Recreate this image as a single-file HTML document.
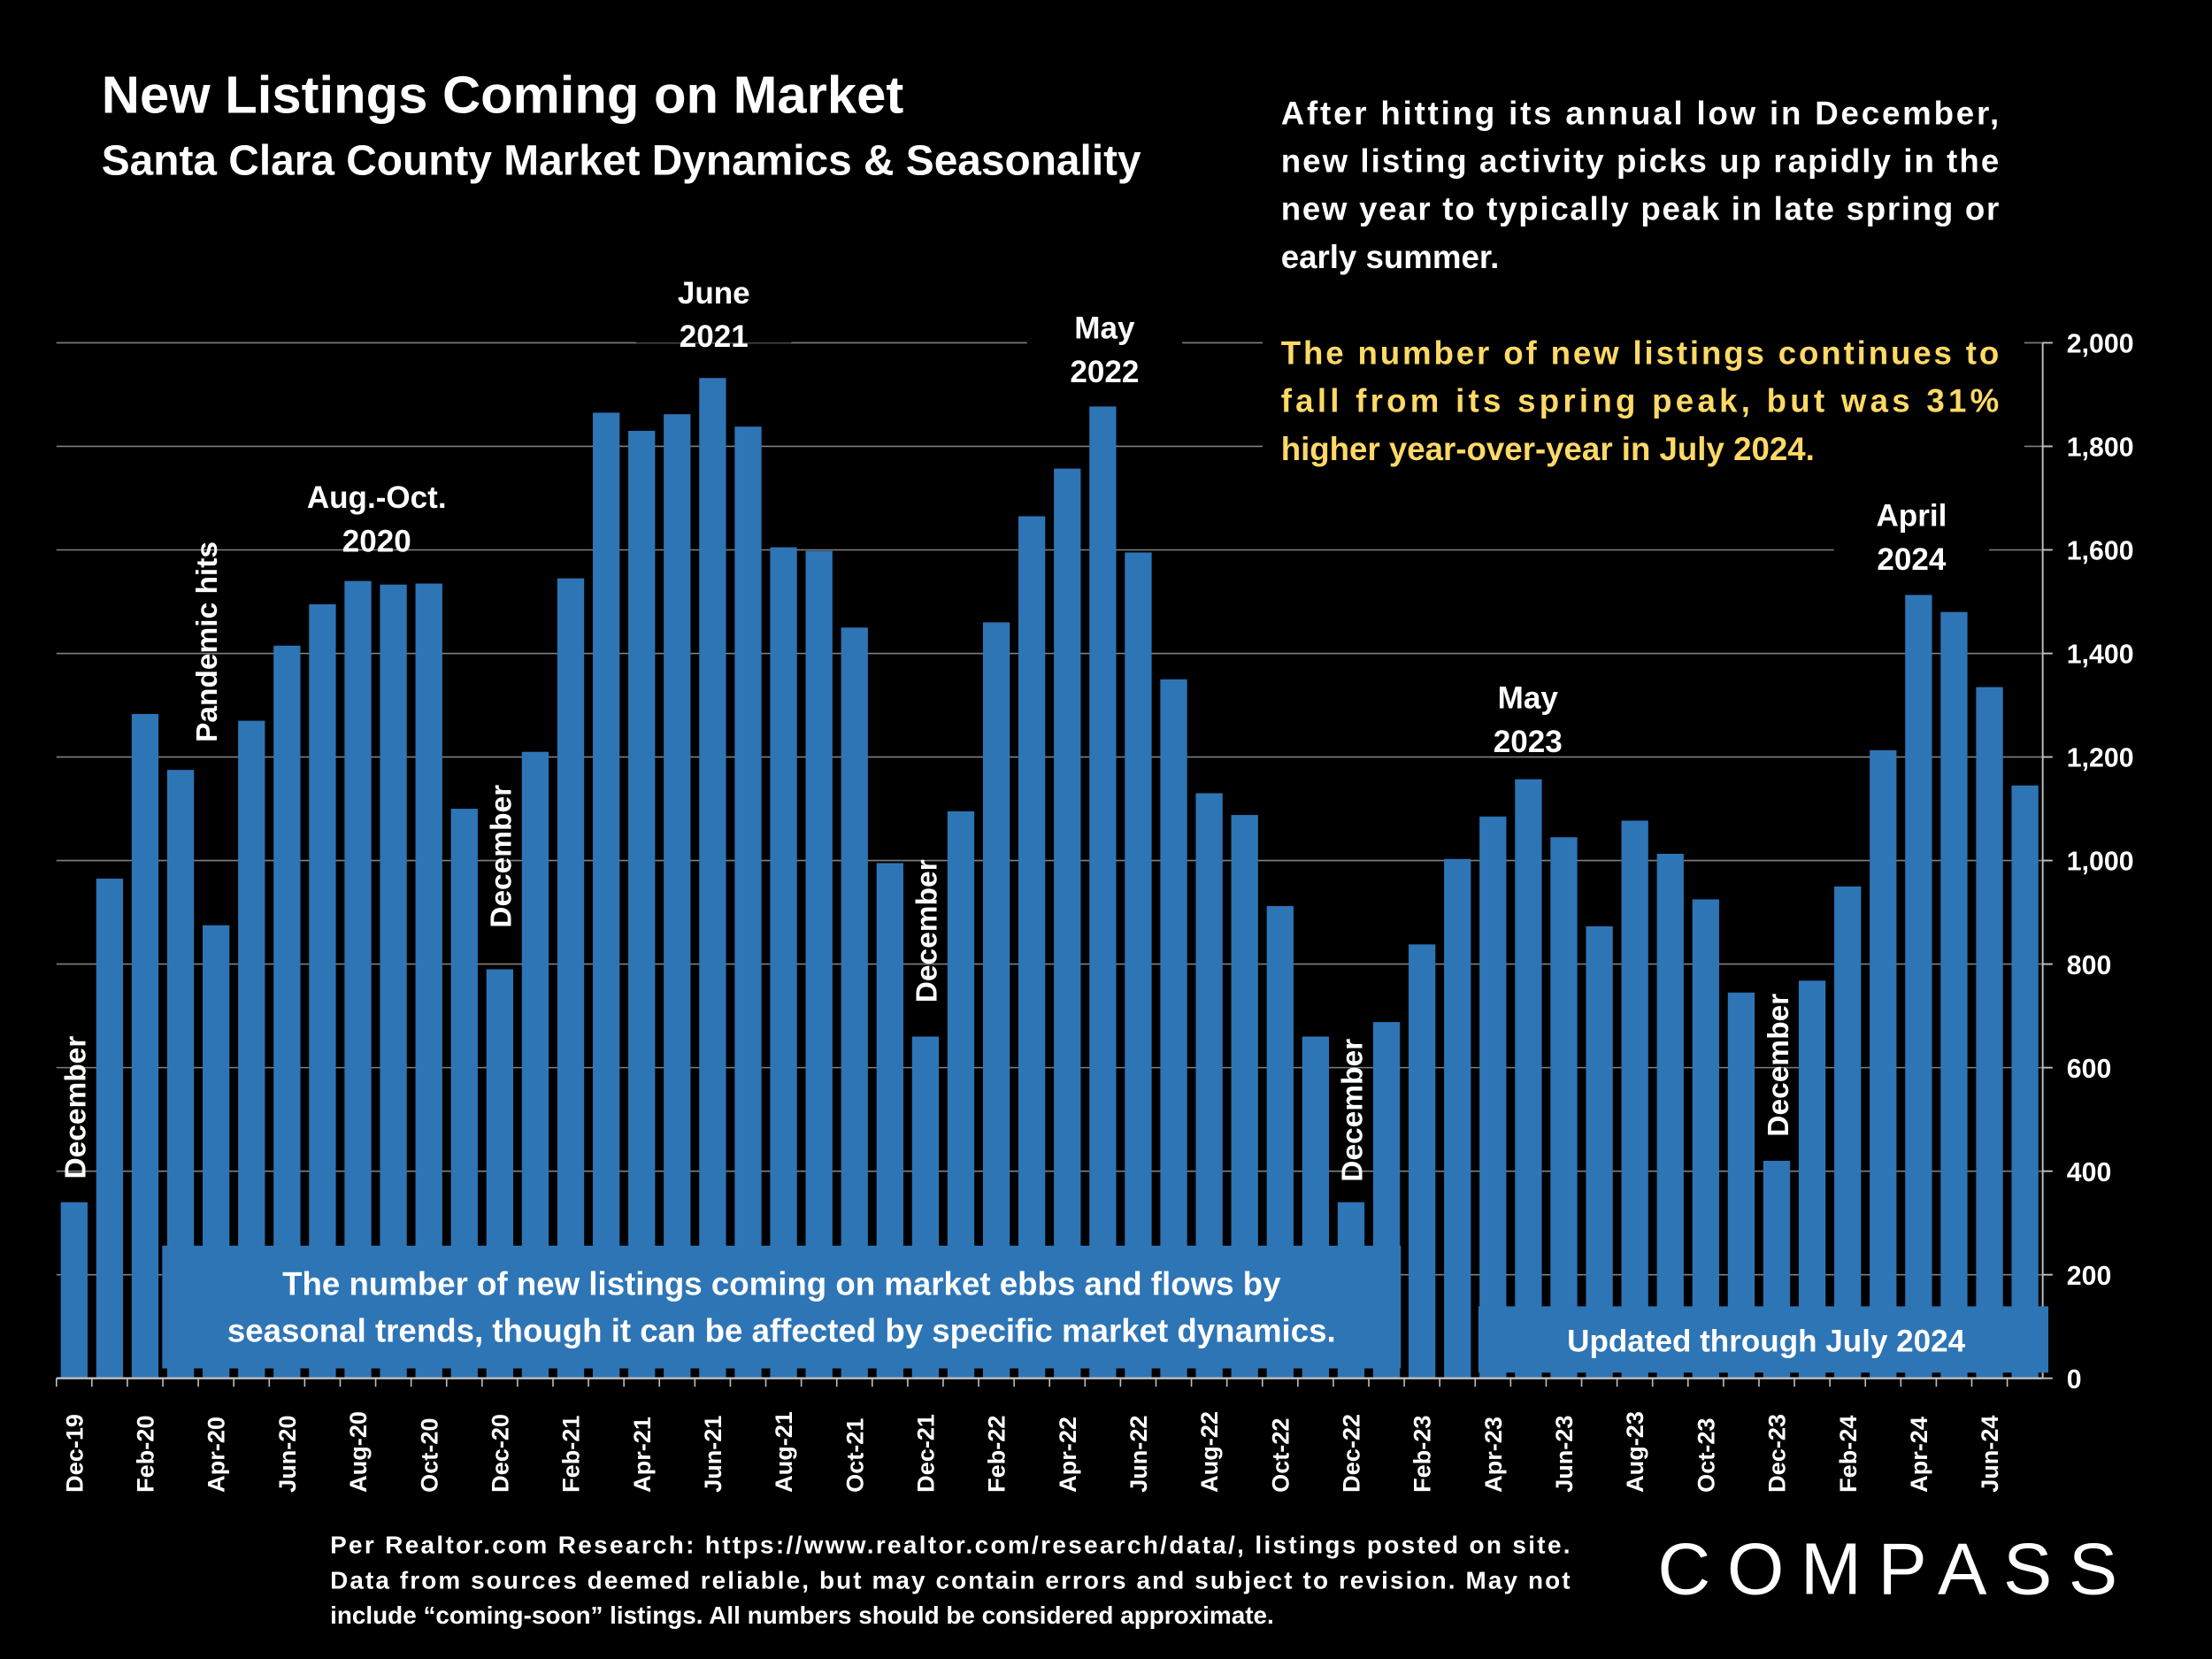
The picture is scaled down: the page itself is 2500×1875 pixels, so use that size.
<!DOCTYPE html>
<html><head><meta charset="utf-8"><style>
html,body{margin:0;padding:0;background:#000;}
svg{display:block;}
text{font-family:"Liberation Sans",sans-serif;font-weight:bold;fill:#fff;}
</style></head><body>
<svg id="chart" width="2500" height="1875" viewBox="0 0 1568 1176" xmlns="http://www.w3.org/2000/svg">
<rect x="0" y="0" width="1568" height="1176" fill="#000"/>
<text x="72" y="80" font-size="37.5">New Listings Coming on Market</text>
<text x="72" y="124" font-size="30">Santa Clara County Market Dynamics &amp; Seasonality</text>
<g id="grid"></g>
<rect x="895" y="236" width="540" height="100" fill="#000"/>
<g font-size="23">
<text x="908" y="88" textLength="509" lengthAdjust="spacing">After hitting its annual low in December,</text>
<text x="908" y="122" textLength="509" lengthAdjust="spacing">new listing activity picks up rapidly in the</text>
<text x="908" y="156" textLength="509" lengthAdjust="spacing">new year to typically peak in late spring or</text>
<text x="908" y="190">early summer.</text>
<text x="908" y="258" textLength="509" lengthAdjust="spacing" style="fill:#ffd966">The number of new listings continues to</text>
<text x="908" y="292" textLength="509" lengthAdjust="spacing" style="fill:#ffd966">fall from its spring peak, but was 31%</text>
<text x="908" y="326" style="fill:#ffd966">higher year-over-year in July 2024.</text>
</g>
<g id="bars"></g>
<g id="axes"></g>
<g id="annot"></g>
<rect x="115" y="883" width="878" height="87" fill="#2e75b6"/>
<text x="554" y="918" font-size="23" text-anchor="middle">The number of new listings coming on market ebbs and flows by</text>
<text x="554" y="951" font-size="23" text-anchor="middle">seasonal trends, though it can be affected by specific market dynamics.</text>
<rect x="1048" y="926" width="404" height="47" fill="#2e75b6"/>
<text x="1252" y="958" font-size="22" text-anchor="middle">Updated through July 2024</text>
<g font-size="17.5">
<text x="234" y="1101" textLength="879" lengthAdjust="spacing">Per Realtor.com Research:  https://www.realtor.com/research/data/, listings posted on site.</text>
<text x="234" y="1126" textLength="879" lengthAdjust="spacing">Data from sources deemed reliable, but may contain errors and subject to revision. May not</text>
<text x="234" y="1151">include “coming-soon” listings. All numbers should be considered approximate.</text>
</g>
<text x="1340" y="1130" font-size="52" text-anchor="middle" textLength="330" lengthAdjust="spacing" style="font-weight:normal;letter-spacing:4px">COMPASS</text>
</svg>
<script>
const categories=["Dec-19","Jan-20","Feb-20","Mar-20","Apr-20","May-20","Jun-20","Jul-20","Aug-20","Sep-20","Oct-20","Nov-20","Dec-20","Jan-21","Feb-21","Mar-21","Apr-21","May-21","Jun-21","Jul-21","Aug-21","Sep-21","Oct-21","Nov-21","Dec-21","Jan-22","Feb-22","Mar-22","Apr-22","May-22","Jun-22","Jul-22","Aug-22","Sep-22","Oct-22","Nov-22","Dec-22","Jan-23","Feb-23","Mar-23","Apr-23","May-23","Jun-23","Jul-23","Aug-23","Sep-23","Oct-23","Nov-23","Dec-23","Jan-24","Feb-24","Mar-24","Apr-24","May-24","Jun-24","Jul-24"];
const listings=[340,965,1283,1175,875,1270,1415,1495,1540,1533,1535,1100,790,1210,1545,1865,1830,1862,1932,1838,1605,1598,1450,995,660,1095,1460,1665,1757,1877,1595,1350,1130,1088,912,660,340,688,838,1003,1085,1157,1045,873,1077,1013,925,745,420,768,950,1213,1513,1480,1335,1145];
const yTicks=[0,200,400,600,800,1000,1200,1400,1600,1800,2000];
const NS="http://www.w3.org/2000/svg";
const X0=40,X1=1448,Y0=977,Y1=243,YMAX=2000;
const slot=(X1-X0)/categories.length;
const xc=i=>X0+slot*(i+0.5);
const y=v=>Y0-(v/YMAX)*(Y0-Y1);
function mk(tag,attrs,parent,txt){const e=document.createElementNS(NS,tag);for(const k in attrs)e.setAttribute(k,attrs[k]);if(txt!==undefined)e.textContent=txt;parent.appendChild(e);return e;}
const grid=document.getElementById('grid'),bars=document.getElementById('bars'),axes=document.getElementById('axes'),annot=document.getElementById('annot');
yTicks.forEach(t=>{
  if(t>0){const g=mk('line',{x1:X0,x2:X1,y1:y(t),y2:y(t),stroke:'#7f7f7f','stroke-width':1},grid);
  
  }
  const tk=mk('line',{x1:X1,x2:X1+7,y1:y(t),y2:y(t),stroke:'#bfbfbf','stroke-width':1.2},axes);
  
  
  const lb=mk('text',{x:1465,y:y(t)+7,'font-size':19},axes,t.toLocaleString('en-US'));
  
  
});
listings.forEach((v,i)=>{
  const r=mk('rect',{x:xc(i)-9.5,y:y(v),width:19,height:Y0-y(v),fill:'#2e75b6'},bars);
  
  
});
const ax=mk('line',{x1:X0,x2:X1,y1:Y0,y2:Y0,stroke:'#bfbfbf','stroke-width':1.5},axes);


const ay=mk('line',{x1:X1,x2:X1,y1:Y1,y2:Y0,stroke:'#bfbfbf','stroke-width':1.2},axes);


categories.forEach((c,i)=>{
  const t=mk('line',{x1:X0+slot*i,x2:X0+slot*i,y1:Y0,y2:Y0+6,stroke:'#bfbfbf','stroke-width':1},axes);
  
  
  if(i%2===0){const px=xc(i)+6;
    const l=mk('text',{x:px,y:1058,'font-size':17,transform:`rotate(-90 ${px} 1058)`},axes,c);
    
    }
});
const vNotes=[["December",0,785],["Pandemic hits",3.7,455],["December",12,607],["December",24,660],["December",36,787],["December",48,755]];
vNotes.forEach(n=>{const px=xc(n[1])+8;
  const t=mk('text',{x:px,y:n[2],'font-size':21,'text-anchor':'middle',transform:`rotate(-90 ${px} ${n[2]})`},annot,n[0]);
  
  });
const hNotes=[["Aug.-Oct.","2020",267,352],["June","2021",506,207],["May","2022",783,232],["May","2023",1083,494],["April","2024",1355,365]];
hNotes.forEach(n=>{
  mk('rect',{x:n[2]-55,y:n[3]-22,width:110,height:58,fill:'#000'},annot);
  const a=mk('text',{x:n[2],y:n[3]+8,'font-size':22,'text-anchor':'middle'},annot,n[0]);
  
  
  const b=mk('text',{x:n[2],y:n[3]+39,'font-size':22,'text-anchor':'middle'},annot,n[1]);
  
  
});
</script>
</body></html>
